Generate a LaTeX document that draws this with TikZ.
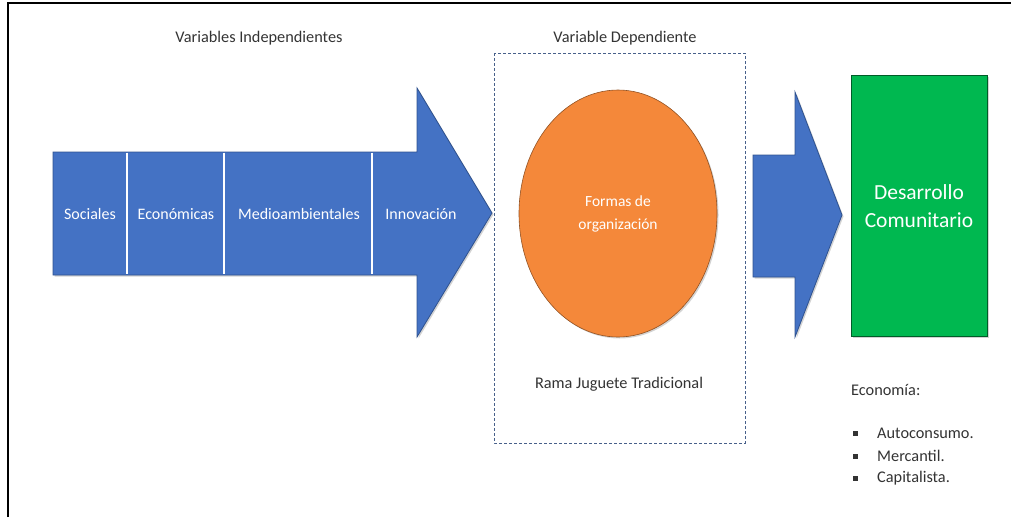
\documentclass[tikz,border=0pt]{standalone}
\usepackage{fontspec}
\setmainfont{Carlito}
\usetikzlibrary{shadows,shapes.geometric}
\definecolor{arrowblue}{HTML}{4472C4}
\definecolor{arrowline}{HTML}{2F528F}
\definecolor{orgorange}{HTML}{F4883A}
\definecolor{devgreen}{HTML}{00B850}
\definecolor{textgray}{HTML}{333333}

\begin{document}
\begin{tikzpicture}[x=1pt,y=-1pt,
	arrow shape/.style={fill=arrowblue,draw=arrowline,line width=0.8pt,line join=miter,drop shadow={opacity=0.35,shadow xshift=1.5pt,shadow yshift=-1.5pt}},
	seg label/.style={text=white,font=\fontsize{16}{19}\selectfont,inner sep=0pt},
	title node/.style={text=textgray,font=\fontsize{16.3}{19}\selectfont},
	list node/.style={text=textgray,font=\fontsize{16.3}{19}\selectfont,anchor=west,inner sep=0pt}]
	
	\useasboundingbox (0,0) rectangle (1011,517);
	\draw[line width=2pt] (8,517) -- (8,3) -- (1011,3);
	
	\node[title node] (indep) at (259,38) {Variables Independientes};
	\node[title node] (dep) at (625,38) {Variable Dependiente};
	
	\filldraw[arrow shape] (53,152) -- (417,152) -- (417,88) -- (492,213) -- (417,337) -- (417,275) -- (53,275) -- cycle;
	\foreach \x in {127,224,372}
	\draw[white,line width=1.2pt] (\x,152.6) -- (\x,274.4);
	
	\node[seg label] (soc) at (90,214) {Sociales};
	\node[seg label] (eco) at (176,214) {Económicas};
	\node[seg label] (med) at (299,214) {Medioambientales};
	\node[seg label] (inn) at (421,214) {Innovación};
	
	\draw[draw=arrowline!70!gray,line width=0.7pt,densely dashed] (494,53) rectangle (745,443);
	
	\node[ellipse,fill=orgorange,draw=orgorange!60!black,line width=0.6pt,minimum width=198,minimum height=247,drop shadow={opacity=0.35,shadow xshift=1.5pt,shadow yshift=-1.5pt},
	text=white,align=center,font=\fontsize{15.5}{23}\selectfont] (org) at (618,213.5) {Formas de\\organización};
	\node[title node] (rama) at (619,384) {Rama Juguete Tradicional};
	
	\filldraw[arrow shape] (753,155) -- (795,155) -- (795,92) -- (842,215) -- (795,337) -- (795,277) -- (753,277) -- cycle;
	
	\node[rectangle,fill=devgreen,draw=devgreen!50!black,line width=0.8pt,minimum width=136,minimum height=261,drop shadow={opacity=0.35,shadow xshift=1.5pt,shadow yshift=-1.5pt},
	text=white,align=center,font=\fontsize{21.5}{28}\selectfont] (des) at (919,206) {Desarrollo\\Comunitario};
	
	\node[list node] (econ) at (851,390) {Economía:};
	\foreach \y/\txt in {433/Autoconsumo.,456/Mercantil.,478/Capitalista.}{
		\node[list node] (item\y) at (877,\y) {\txt};
		\fill[textgray] (853,\y-2.5) rectangle +(5,5);
	}
\end{tikzpicture}
\end{document}
